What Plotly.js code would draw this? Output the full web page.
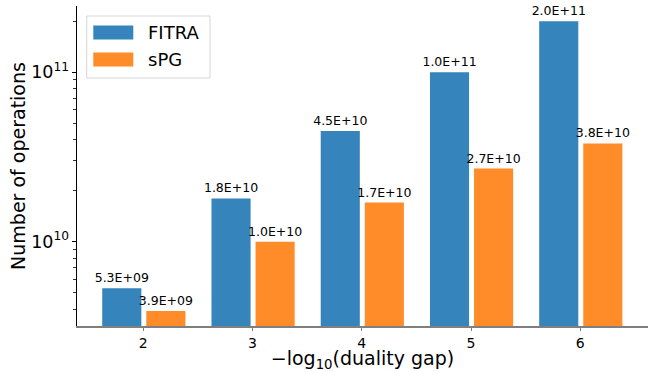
<!DOCTYPE html>
<html>
<head>
<meta charset="utf-8">
<script src="https://cdn.plot.ly/plotly-3.0.1.min.js"></script>
<style>html,body{margin:0;padding:0;background:#fff;}#chart{width:654px;height:372px;}</style>
</head>
<body>
<div id="chart"></div>
<script>
// ---- data ----
var gaps = [2, 3, 4, 5, 6];
var fitraOps = [5.3e9, 1.8e10, 4.5e10, 1.0e11, 2.0e11];
var spgOps = [3.9e9, 1.0e10, 1.7e10, 2.7e10, 3.8e10];
var seriesNames = ["FITRA", "sPG"];

var blue = "rgb(53,132,187)";
var orange = "rgb(255,140,40)";
var FONT = "DejaVu Sans, sans-serif";

function sci(v) {
  var e = Math.floor(Math.log10(v) + 1e-9);
  var m = v / Math.pow(10, e);
  var s = e < 0 ? "-" : "+";
  var ae = Math.abs(e);
  return m.toFixed(1) + "E" + s + (ae < 10 ? "0" : "") + ae;
}

// plot area in pixels
var W = 654, Hh = 372;
var L = 77, R = 648, T = 6, B = 326;
function px(x) { return (x - L) / (R - L); }
function py(y) { return (B - y) / (B - T); }

var traces = [
  {
    type: "bar", name: seriesNames[0], x: gaps, y: fitraOps,
    width: 0.358, offset: -0.376,
    marker: {color: blue, line: {width: 0}},
    text: fitraOps.map(sci), textposition: "outside", constraintext: "none",
    textfont: {family: FONT, size: 12.5, color: "#000"},
    cliponaxis: false, showlegend: false, hoverinfo: "x+y"
  },
  {
    type: "bar", name: seriesNames[1], x: gaps, y: spgOps,
    width: 0.358, offset: 0.0275,
    marker: {color: orange, line: {width: 0}},
    text: spgOps.map(sci), textposition: "outside", constraintext: "none",
    textfont: {family: FONT, size: 12.5, color: "#000"},
    cliponaxis: false, showlegend: false, hoverinfo: "x+y"
  }
];

var shapes = [
  {type: "rect", xref: "paper", yref: "paper", x0: px(86.7), x1: px(210), y0: py(78), y1: py(16),
   line: {color: "#d6d6d6", width: 1}, fillcolor: "rgba(255,255,255,0.85)", layer: "above"},
  {type: "rect", xref: "paper", yref: "paper", x0: px(93.3), x1: px(133.3), y0: py(39.5), y1: py(25.5),
   line: {width: 0}, fillcolor: blue, layer: "above"},
  {type: "rect", xref: "paper", yref: "paper", x0: px(93.3), x1: px(133.3), y0: py(66.5), y1: py(52.5),
   line: {width: 0}, fillcolor: orange, layer: "above"}
];

var annotations = [
  {xref: "paper", yref: "paper", x: px(146), y: py(32.5), xanchor: "left", yanchor: "middle",
   text: seriesNames[0], showarrow: false, font: {family: FONT, size: 18, color: "#000"}},
  {xref: "paper", yref: "paper", x: px(146), y: py(59.5), xanchor: "left", yanchor: "middle",
   text: seriesNames[1], showarrow: false, font: {family: FONT, size: 18, color: "#000"}}
];

var layout = {
  width: W, height: Hh,
  margin: {l: L, r: W - R, t: T, b: Hh - B, pad: 0},
  paper_bgcolor: "#fff", plot_bgcolor: "#fff",
  font: {family: FONT, color: "#000"},
  showlegend: false,
  barmode: "group",
  xaxis: {
    range: [1.393, 6.62], tickvals: gaps, ticktext: gaps.map(String),
    showgrid: false, zeroline: false,
    showline: true, linecolor: "rgba(0,0,0,0.5)", linewidth: 1.5,
    ticks: "outside", ticklen: 3.5, tickcolor: "rgba(0,0,0,0.5)", tickwidth: 1,
    tickfont: {family: FONT, size: 14, color: "#000"},
    title: {text: "\u2212log<sub>10</sub>(duality gap)", font: {family: FONT, size: 19, color: "#000"}, standoff: 7}
  },
  yaxis: {
    type: "log", range: [9.502, 11.391], dtick: 1, exponentformat: "power",
    showgrid: false, zeroline: false,
    showline: true, linecolor: "#000", linewidth: 1.2,
    ticks: "outside", ticklen: 4, tickcolor: "#000", tickwidth: 1,
    minor: {ticks: "outside", ticklen: 2.5, tickcolor: "#000", tickwidth: 0.8, dtick: "D1", showgrid: false},
    tickfont: {family: FONT, size: 14, color: "#000"},
    title: {text: "Number of operations", font: {family: FONT, size: 19, color: "#000"}, standoff: 0}
  },
  shapes: shapes,
  annotations: annotations
};

Plotly.newPlot("chart", traces, layout, {staticPlot: true, displayModeBar: false});
</script>
</body>
</html>
